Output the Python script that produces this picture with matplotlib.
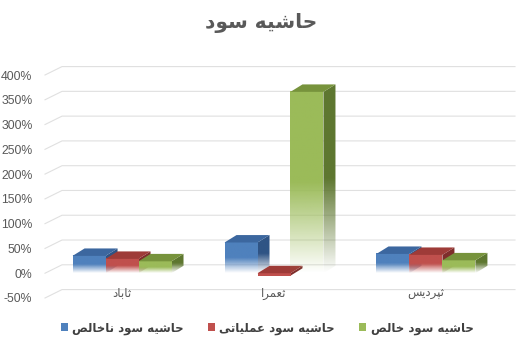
import numpy as np
import matplotlib
matplotlib.use("Agg")
import matplotlib.pyplot as plt
from matplotlib.patches import Polygon, Patch
from matplotlib.colors import to_rgb

# data (percent)
categories = ['ثاباد', 'ثعمرا', 'ثپردیس']
series_names = ['حاشیه سود ناخالص', 'حاشیه سود عملیاتی', 'حاشیه سود خالص']
gross = [35, 62, 39]
operating = [29, -5, 37]
net = [24, 366, 26]
title = 'حاشیه سود'
yticks = [-50, 0, 50, 100, 150, 200, 250, 300, 350, 400]

front_colors = ['#4f81bd', '#c0504d', '#9bbb59']
top_colors = ['#3c679f', '#9e3b38', '#77933c']
side_colors = ['#2f5485', '#7f2e2c', '#5e7730']

# --- simple persian shaping (matplotlib has no bidi / joining) ---
FORMS = {  # isolated, final, initial, medial
    'ا': ('\uFE8D', '\uFE8E', None, None),
    'ب': ('\uFE8F', '\uFE90', '\uFE91', '\uFE92'),
    'پ': ('\uFB56', '\uFB57', '\uFB58', '\uFB59'),
    'ت': ('\uFE95', '\uFE96', '\uFE97', '\uFE98'),
    'ث': ('\uFE99', '\uFE9A', '\uFE9B', '\uFE9C'),
    'ح': ('\uFEA1', '\uFEA2', '\uFEA3', '\uFEA4'),
    'خ': ('\uFEA5', '\uFEA6', '\uFEA7', '\uFEA8'),
    'د': ('\uFEA9', '\uFEAA', None, None),
    'ر': ('\uFEAD', '\uFEAE', None, None),
    'س': ('\uFEB1', '\uFEB2', '\uFEB3', '\uFEB4'),
    'ش': ('\uFEB5', '\uFEB6', '\uFEB7', '\uFEB8'),
    'ص': ('\uFEB9', '\uFEBA', '\uFEBB', '\uFEBC'),
    'ع': ('\uFEC9', '\uFECA', '\uFECB', '\uFECC'),
    'ل': ('\uFEDD', '\uFEDE', '\uFEDF', '\uFEE0'),
    'م': ('\uFEE1', '\uFEE2', '\uFEE3', '\uFEE4'),
    'ن': ('\uFEE5', '\uFEE6', '\uFEE7', '\uFEE8'),
    'ه': ('\uFEE9', '\uFEEA', '\uFEEB', '\uFEEC'),
    'و': ('\uFEED', '\uFEEE', None, None),
    'ی': ('\uFBFC', '\uFBFD', '\uFBFE', '\uFBFF'),
}


def shape(text):
    out = []
    for i, ch in enumerate(text):
        if ch not in FORMS:
            out.append(ch)
            continue
        prev = text[i - 1] if i > 0 else ''
        nxt = text[i + 1] if i + 1 < len(text) else ''
        dual = FORMS[ch][2] is not None
        joins_prev = prev in FORMS and FORMS[prev][2] is not None
        joins_next = dual and nxt in FORMS
        if joins_prev and joins_next:
            out.append(FORMS[ch][3])
        elif joins_prev:
            out.append(FORMS[ch][1])
        elif joins_next:
            out.append(FORMS[ch][2])
        else:
            out.append(FORMS[ch][0])
    return ''.join(out)[::-1]


fa_font = ['DejaVu Sans']
num_font = ['Liberation Sans', 'DejaVu Sans']

W, H = 530, 342
fig = plt.figure(figsize=(W / 100, H / 100), dpi=100)
ax = fig.add_axes([45 / W, (H - 298) / H, 470 / W, 223 / H])

bar_w = 0.217
dx = 0.079   # depth in x (category units)
dy = 15      # depth in y (percent units)


def grad(color, fade=0.5):
    n = 256
    f = np.linspace(0, 1, n)
    a = np.clip(f / fade, 0, 1) if fade else np.ones(n)
    rgb = np.array(to_rgb(color))
    img = np.ones((n, 1, 4))
    img[:, 0, :3] = rgb
    img[:, 0, 3] = a
    return img


def bar3d(x0, v, k, z):
    y0, y1 = min(0, v), max(0, v)
    fade = 0.5 if v > 0 else None
    side = Polygon([(x0 + bar_w, y0), (x0 + bar_w + dx, y0 + dy),
                    (x0 + bar_w + dx, y1 + dy), (x0 + bar_w, y1)],
                   closed=True, fc='none', ec='none')
    ax.add_patch(side)
    im = ax.imshow(grad(side_colors[k], fade), extent=(x0 + bar_w, x0 + bar_w + dx, y0, y1 + dy),
                   aspect='auto', origin='lower', zorder=z, interpolation='bilinear')
    im.set_clip_path(side)
    ax.imshow(grad(front_colors[k], fade), extent=(x0, x0 + bar_w, y0, y1),
              aspect='auto', origin='lower', zorder=z + 0.1, interpolation='bilinear')
    top = Polygon([(x0, y1), (x0 + dx, y1 + dy), (x0 + bar_w + dx, y1 + dy), (x0 + bar_w, y1)],
                  closed=True, fc=top_colors[k], ec='none', zorder=z + 0.2)
    ax.add_patch(top)


# gridlines on the back wall with the slanted floor part
for t in yticks:
    ax.plot([-0.507, -0.395, 2.586], [t, t + 17, t + 17], color='#e0e0e0', lw=0.8,
            zorder=0, clip_on=False)

series = [gross, operating, net]
for i in range(len(categories)):
    for k, vals in enumerate(series):
        x0 = i + (k - 1.5) * bar_w
        bar3d(x0, vals[i], k, 2 + i * 3 + k)

ax.set_xlim(-0.507, 2.586)
ax.set_ylim(-50, 400)
ax.set_yticks(yticks)
ax.set_yticklabels([f'{t}%' for t in yticks], fontsize=8.8, color='#595959', family=num_font)
ax.tick_params(axis='y', length=0, pad=9)
ax.set_xticks([])
for s in ax.spines.values():
    s.set_visible(False)

for i, c in enumerate(categories):
    ax.text(i, -40, shape(c), ha='center', va='center', fontsize=8.5,
            color='#595959', family=fa_font)

fig.text(261 / W, 1 - 23 / H, shape(title), ha='center', va='center', fontsize=14.5,
         fontweight='bold', color='#595959', family=fa_font)

handles = [Patch(fc=c, ec='none') for c in front_colors]
fig.legend(handles, [shape(s) for s in series_names], loc='center', ncol=3,
           bbox_to_anchor=(267 / W, 1 - 328 / H), frameon=False, handlelength=0.6,
           handleheight=0.6, handletextpad=0.4, columnspacing=2.0,
           prop={'family': fa_font, 'weight': 'bold', 'size': 8.5}, labelcolor='#404040')

fig.savefig('out.png', dpi=100)
